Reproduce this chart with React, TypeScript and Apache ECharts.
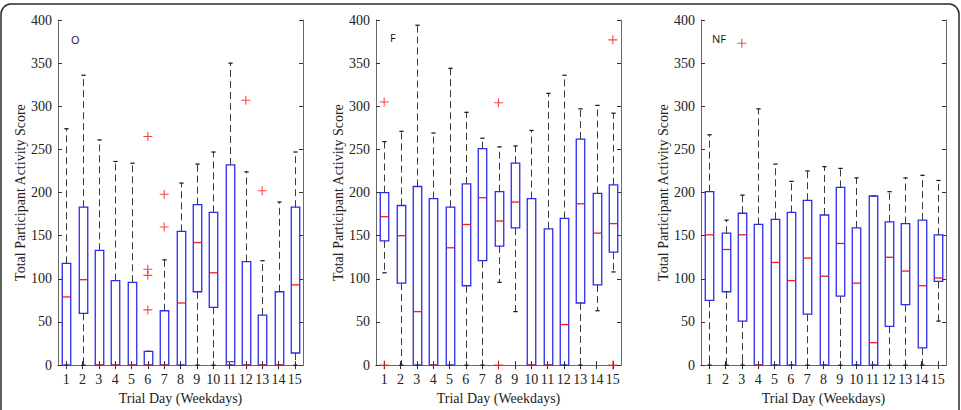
import React, { useEffect, useRef } from "react";
import * as echarts from "echarts";

// Trial days (weekdays) on the x axis
const days = ["1", "2", "3", "4", "5", "6", "7", "8", "9", "10", "11", "12", "13", "14", "15"];
const yTicks = { min: 0, max: 400, interval: 50 };

// Group O: box statistics per trial day
const oLow = [0, 0, 0, 0, 0, 0, 0, 0, 0, 0, 0, 0, 0, 0, 0];
const oQ1 = [0, 60, 0, 0, 0, 0, 0, 0, 85, 67, 0, 0, 0, 0, 14];
const oMed = [79, 99, 0, 0, 0, 0, 0, 72, 142, 107, 4, 0, 0, 0, 93];
const oQ3 = [118, 183, 133, 98, 96, 16, 63, 155, 186, 177, 232, 120, 58, 85, 183];
const oHigh = [274, 336, 261, 236, 234, 16, 122, 211, 233, 247, 350, 224, 121, 189, 247];
const oOutliers: [number, number][] = [
  [6, 265], [6, 111], [6, 104], [6, 64], [7, 198], [7, 160], [12, 307], [13, 202],
];

// Group F
const fLow = [107, 0, 0, 0, 0, 0, 0, 96, 62, 0, 0, 0, 0, 63, 108];
const fQ1 = [144, 95, 0, 0, 0, 92, 121, 138, 159, 0, 0, 0, 72, 93, 131];
const fMed = [172, 150, 62, 0, 136, 163, 194, 167, 189, 0, 0, 47, 187, 153, 164];
const fQ3 = [200, 185, 207, 193, 183, 210, 251, 201, 234, 193, 158, 170, 262, 199, 209];
const fHigh = [259, 271, 394, 269, 344, 293, 263, 253, 254, 272, 315, 336, 297, 301, 292];
const fOutliers: [number, number][] = [
  [1, 305], [1, 0], [8, 304], [8, 0], [15, 377], [15, 0],
];

// Group NF
const nfLow = [0, 0, 0, 0, 0, 0, 0, 0, 0, 0, 0, 0, 0, 0, 51];
const nfQ1 = [75, 85, 51, 0, 0, 0, 59, 0, 80, 0, 0, 45, 70, 20, 97];
const nfMed = [151, 134, 151, 0, 119, 98, 124, 103, 141, 95, 26, 125, 109, 92, 101];
const nfQ3 = [201, 153, 176, 163, 169, 177, 191, 174, 206, 159, 196, 166, 164, 168, 151];
const nfHigh = [267, 168, 197, 297, 233, 213, 225, 230, 228, 217, 196, 201, 217, 220, 214];
const nfOutliers: [number, number][] = [[3, 373]];

const panelNames = ["O", "F", "NF"];

const SERIF = "Liberation Serif";
const BLUE = "#2b2bea";
const RED = "#ee1c1c";

const grids = [
  { left: 58, top: 20, width: 245, height: 350 },
  { left: 376, top: 20, width: 245, height: 350 },
  { left: 701, top: 20, width: 245, height: 350 },
];

function boxRows(low: number[], q1: number[], med: number[], q3: number[], high: number[]) {
  return days.map((_, i) => [i, low[i], q1[i], med[i], q3[i], high[i]]);
}

const renderBox = (_params: any, api: any) => {
  const idx = api.value(0);
  const lo = api.coord([idx, api.value(1)]);
  const q1 = api.coord([idx, api.value(2)]);
  const med = api.coord([idx, api.value(3)]);
  const q3 = api.coord([idx, api.value(4)]);
  const hi = api.coord([idx, api.value(5)]);
  const band = api.size([1, 0])[0];
  const bw = band * 0.52;
  const cw = bw * 0.5;
  const cx = Math.round(lo[0]) + 0.5;
  const whiskerStyle = { stroke: "#3a3a3a", lineWidth: 1, lineDash: [7, 4] };
  const capStyle = { stroke: "#111", lineWidth: 1.2 };
  return {
    type: "group",
    children: [
      { type: "line", shape: { x1: cx, y1: q3[1], x2: cx, y2: hi[1] }, style: whiskerStyle },
      { type: "line", shape: { x1: cx, y1: q1[1], x2: cx, y2: lo[1] }, style: whiskerStyle },
      { type: "line", shape: { x1: cx - cw / 2, y1: hi[1], x2: cx + cw / 2, y2: hi[1] }, style: capStyle },
      { type: "line", shape: { x1: cx - cw / 2, y1: lo[1], x2: cx + cw / 2, y2: lo[1] }, style: capStyle },
      {
        type: "rect",
        shape: { x: cx - bw / 2, y: q3[1], width: bw, height: q1[1] - q3[1] },
        style: { fill: "none", stroke: BLUE, lineWidth: 1.3 },
      },
      {
        type: "line",
        shape: { x1: cx - bw / 2, y1: med[1], x2: cx + bw / 2, y2: med[1] },
        style: { stroke: RED, lineWidth: 1.3 },
      },
    ],
  };
};

const PLUS = "path://M-0.6,-5 H0.6 V-0.6 H5 V0.6 H0.6 V5 H-0.6 V0.6 H-5 V-0.6 H-0.6 Z";

export default function App() {
  const ref = useRef<HTMLDivElement>(null);

  useEffect(() => {
    if (!ref.current) return;
    const chart = echarts.init(ref.current, null, { renderer: "svg" });

    const panels = [
      { rows: boxRows(oLow, oQ1, oMed, oQ3, oHigh), out: oOutliers },
      { rows: boxRows(fLow, fQ1, fMed, fQ3, fHigh), out: fOutliers },
      { rows: boxRows(nfLow, nfQ1, nfMed, nfQ3, nfHigh), out: nfOutliers },
    ];

    const axisLine = { show: true, lineStyle: { color: "#6a6a6a", width: 1 } };
    const tick = { show: true, inside: true, length: 4, lineStyle: { color: "#333" } };
    const serifText = { fontFamily: SERIF, fontSize: 14, color: "#222" };

    const xAxes: any[] = [];
    const yAxes: any[] = [];
    grids.forEach((_, g) => {
      xAxes.push({
        type: "category",
        gridIndex: g,
        data: days,
        boundaryGap: true,
        position: "bottom",
        axisLine,
        axisTick: { ...tick, alignWithLabel: true },
        axisLabel: { ...serifText, margin: 7, interval: 0 },
        name: "Trial Day (Weekdays)",
        nameLocation: "middle",
        nameGap: 24,
        nameTextStyle: serifText,
      });
      yAxes.push({
        type: "value",
        gridIndex: g,
        ...yTicks,
        position: "left",
        axisLine,
        axisTick: tick,
        splitLine: { show: false },
        axisLabel: { ...serifText, margin: 6 },
        name: "Total Participant Activity Score",
        nameLocation: "middle",
        nameGap: 31,
        nameTextStyle: serifText,
      });
    });
    grids.forEach((_, g) => {
      xAxes.push({
        type: "category",
        gridIndex: g,
        data: days,
        boundaryGap: true,
        position: "top",
        axisLine,
        axisTick: { ...tick, alignWithLabel: true },
        axisLabel: { show: false },
      });
      yAxes.push({
        type: "value",
        gridIndex: g,
        ...yTicks,
        position: "right",
        axisLine,
        axisTick: tick,
        splitLine: { show: false },
        axisLabel: { show: false },
      });
    });

    const series: any[] = [];
    panels.forEach((p, g) => {
      series.push({
        type: "custom",
        xAxisIndex: g,
        yAxisIndex: g,
        renderItem: renderBox,
        encode: { x: 0, y: [1, 2, 3, 4, 5] },
        data: p.rows,
        z: 2,
      });
      series.push({
        type: "scatter",
        xAxisIndex: g,
        yAxisIndex: g,
        symbol: PLUS,
        symbolSize: 9,
        itemStyle: { color: RED },
        data: p.out.map(([d, v]) => [d - 1, v]),
        z: 3,
      });
    });

    const labelPos = [
      { x: 71, y: 39 },
      { x: 390, y: 37 },
      { x: 712, y: 38 },
    ];

    chart.setOption({
      animation: false,
      backgroundColor: "#fff",
      textStyle: { fontFamily: SERIF },
      grid: grids,
      xAxis: xAxes,
      yAxis: yAxes,
      series,
      graphic: [
        {
          type: "rect",
          shape: { x: 1, y: 4, width: 958, height: 440, r: 10 },
          style: { fill: "none", stroke: "#2a2a2a", lineWidth: 1.5 },
          silent: true,
        },
        ...panelNames.map((name, i) => ({
          type: "text",
          x: labelPos[i].x,
          y: labelPos[i].y,
          style: {
            text: name,
            fontFamily: "Open Sans",
            fontSize: 11,
            fill: "#111",
            verticalAlign: "middle",
          },
        })),
      ],
    });

    return () => chart.dispose();
  }, []);

  return (
    <div
      ref={ref}
      style={{ position: "fixed", left: 0, top: 0, width: 961, height: 410 }}
    />
  );
}
